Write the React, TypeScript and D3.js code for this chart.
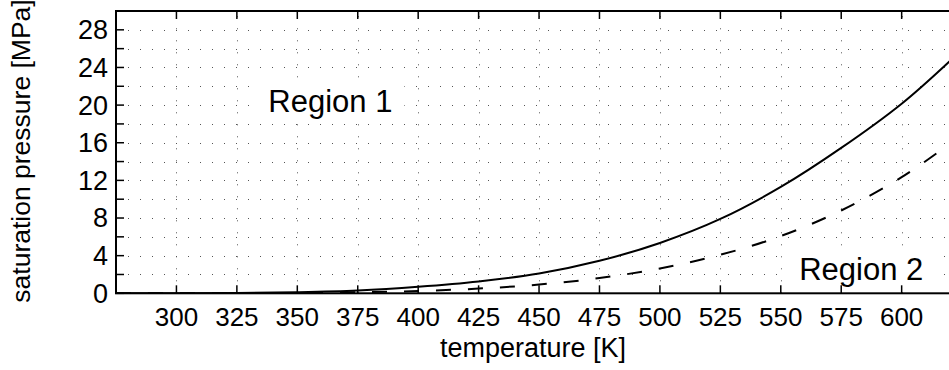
import { useRef, useEffect } from "react"
import * as d3 from "d3"

// temperature samples [K]
const temps = [275, 300, 325, 350, 375, 400, 425, 450, 475, 500, 525, 550, 575, 600, 620]
// solid curve [MPa]
const solidP = [0.002, 0.01, 0.04, 0.12, 0.3, 0.69, 1.25, 2.1, 3.45, 5.35, 7.9, 11.3, 15.45, 20.15, 24.7]
// dashed curve, saturation line [MPa]
const dashedP = [0.0007, 0.0035, 0.0135, 0.0417, 0.108, 0.246, 0.5, 0.932, 1.617, 2.639, 4.093, 6.083, 8.8, 12.34, 15.9]

const xTicks = [300, 325, 350, 375, 400, 425, 450, 475, 500, 525, 550, 575, 600]
const yTicks = [0, 2, 4, 6, 8, 10, 12, 14, 16, 18, 20, 22, 24, 26, 28]
const yLabels = [0, 4, 8, 12, 16, 20, 24, 28]

const labels = [
  { text: "Region 1", t: 338, p: 19.3 },
  { text: "Region 2", t: 557.6, p: 1.41 },
]

const W = 949
const H = 370
const FONT = "'Liberation Sans', Arial, Helvetica, sans-serif"

export default function App() {
  const svgRef = useRef<SVGSVGElement | null>(null)

  useEffect(() => {
    if (!svgRef.current) return
    const svg = d3.select(svgRef.current)
    svg.selectAll("*").remove()

    const left = 116
    const right = 950
    const top = 11
    const bottom = 293.3

    const x = d3.scaleLinear().domain([275, 620]).range([left, right])
    const y = d3.scaleLinear().domain([0, 30]).range([bottom, top])

    svg.append("rect").attr("width", W).attr("height", H).attr("fill", "white")

    svg
      .append("defs")
      .append("clipPath")
      .attr("id", "plot-clip")
      .append("rect")
      .attr("x", left)
      .attr("y", top)
      .attr("width", right - left)
      .attr("height", bottom - top)

    // dotted grid
    const grid = svg.append("g").attr("stroke", "#555").attr("stroke-width", 1).attr("stroke-dasharray", "1,11")
    grid
      .selectAll(".vg")
      .data(xTicks)
      .enter()
      .append("line")
      .attr("x1", (d) => Math.round(x(d)) + 0.5)
      .attr("x2", (d) => Math.round(x(d)) + 0.5)
      .attr("y1", bottom)
      .attr("y2", top)
    grid
      .selectAll(".hg")
      .data(yTicks.filter((d) => d > 0))
      .enter()
      .append("line")
      .attr("x1", left)
      .attr("x2", right)
      .attr("y1", (d) => Math.round(y(d)) + 0.5)
      .attr("y2", (d) => Math.round(y(d)) + 0.5)

    // curves
    const line = d3
      .line<number>()
      .x((_, i) => x(temps[i]))
      .y((d) => y(d))
      .curve(d3.curveCatmullRom)

    const plot = svg.append("g").attr("clip-path", "url(#plot-clip)")
    plot
      .append("path")
      .datum(dashedP)
      .attr("fill", "none")
      .attr("stroke", "black")
      .attr("stroke-width", 2)
      .attr("stroke-dasharray", "15,17")
      .attr("d", line)
    plot
      .append("path")
      .datum(solidP)
      .attr("fill", "none")
      .attr("stroke", "black")
      .attr("stroke-width", 2)
      .attr("d", line)

    // region labels with white background
    labels.forEach((l) => {
      const g = svg.append("g")
      const bg = g.append("rect").attr("fill", "white")
      const txt = g
        .append("text")
        .attr("x", x(l.t))
        .attr("y", y(l.p))
        .attr("font-family", FONT)
        .attr("font-size", 31)
        .attr("fill", "black")
        .text(l.text)
      const b = (txt.node() as SVGTextElement).getBBox()
      bg.attr("x", b.x - 12)
        .attr("y", b.y - 2)
        .attr("width", b.width + 24)
        .attr("height", b.height + 4)
    })

    // frame
    const frame = svg.append("g").attr("stroke", "black").attr("stroke-width", 2).attr("fill", "none")
    frame.append("rect").attr("x", left).attr("y", top).attr("width", right - left).attr("height", bottom - top)

    const ticks = svg.append("g").attr("stroke", "black").attr("stroke-width", 1.5)
    ticks
      .selectAll(".xb")
      .data(xTicks)
      .enter()
      .append("line")
      .attr("x1", (d) => x(d))
      .attr("x2", (d) => x(d))
      .attr("y1", bottom)
      .attr("y2", bottom - 8)
    ticks
      .selectAll(".xt")
      .data(xTicks)
      .enter()
      .append("line")
      .attr("x1", (d) => x(d))
      .attr("x2", (d) => x(d))
      .attr("y1", top)
      .attr("y2", top + 8)
    ticks
      .selectAll(".yl")
      .data(yTicks)
      .enter()
      .append("line")
      .attr("x1", left)
      .attr("x2", left + 8)
      .attr("y1", (d) => y(d))
      .attr("y2", (d) => y(d))

    // tick labels
    svg
      .append("g")
      .selectAll("text")
      .data(xTicks)
      .enter()
      .append("text")
      .attr("x", (d) => x(d))
      .attr("y", 326)
      .attr("text-anchor", "middle")
      .attr("font-family", FONT)
      .attr("font-size", 26)
      .text((d) => d)

    svg
      .append("g")
      .selectAll("text")
      .data(yLabels)
      .enter()
      .append("text")
      .attr("x", 108)
      .attr("y", (d) => y(d))
      .attr("dy", "0.35em")
      .attr("text-anchor", "end")
      .attr("font-family", FONT)
      .attr("font-size", 27)
      .text((d) => d)

    // axis titles
    svg
      .append("text")
      .attr("x", (left + right) / 2)
      .attr("y", 357)
      .attr("text-anchor", "middle")
      .attr("font-family", FONT)
      .attr("font-size", 27)
      .text("temperature [K]")

    svg
      .append("text")
      .attr("transform", "rotate(-90)")
      .attr("x", -151)
      .attr("y", 30)
      .attr("text-anchor", "middle")
      .attr("font-family", FONT)
      .attr("font-size", 26.5)
      .text("saturation pressure [MPa]")
  }, [])

  return (
    <svg
      ref={svgRef}
      width={W}
      height={H}
      style={{ position: "absolute", left: 0, top: 0, display: "block" }}
    ></svg>
  )
}
